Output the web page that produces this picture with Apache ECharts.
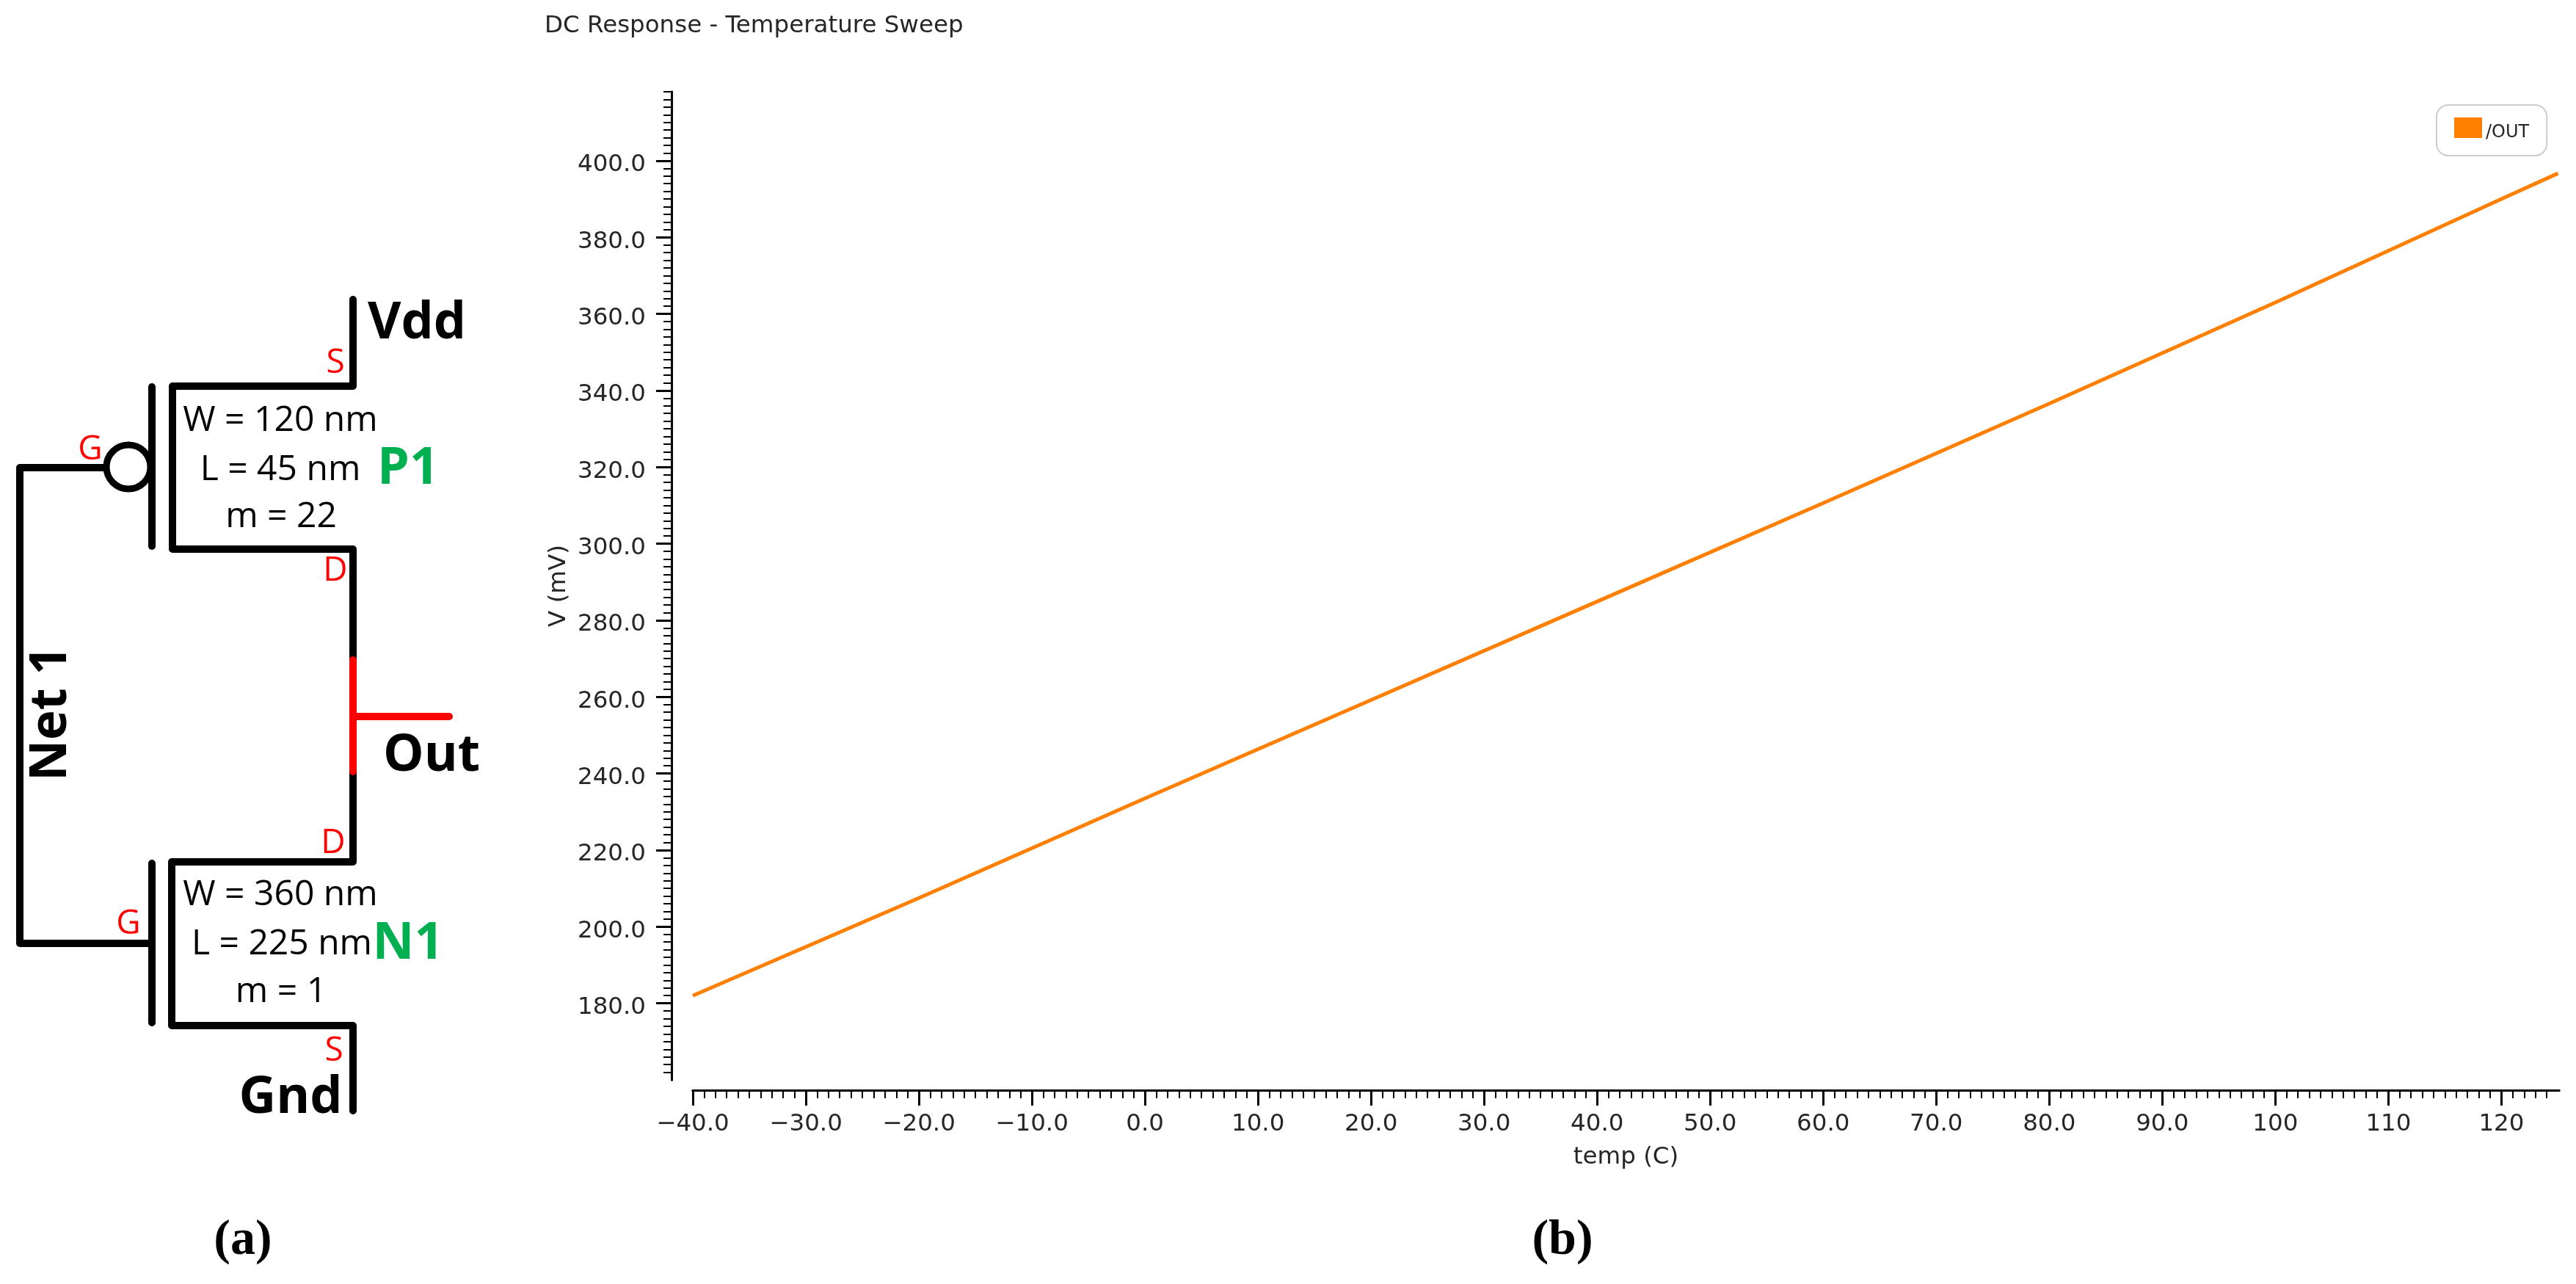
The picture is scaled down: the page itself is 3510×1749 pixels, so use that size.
<!DOCTYPE html>
<html><head><meta charset="utf-8">
<style>html,body{margin:0;padding:0;background:#fff}#c{width:3510px;height:1749px}</style>
<script src="https://cdn.jsdelivr.net/npm/echarts@6/dist/echarts.min.js"></script>
</head><body><div id="c"></div>
<script>
// ---- data ----
const temperatures = [-40, -20, 0, 20, 40, 60, 80, 100, 120, 125];
const voltages = [182, 207.5, 233.5, 259.2, 284.9, 310.6, 336.6, 363, 390, 396.7];
const seriesName = '/OUT';
const xMajorTicks = [-40,-30,-20,-10,0,10,20,30,40,50,60,70,80,90,100,110,120];
const yMajorTicks = [180,200,220,240,260,280,300,320,340,360,380,400];
const xLabelDecimalsBelow = 100;
const chartTitle = 'DC Response - Temperature Sweep';
const xName = 'temp (C)';
const yName = 'V (mV)';

const xMinorTicks = [];
for (let v = -39; v <= 124; v++) if (!xMajorTicks.includes(v)) xMinorTicks.push(v);
const yMinorTicks = [];
for (let v = 162; v <= 418; v += 2) if (!yMajorTicks.includes(v)) yMinorTicks.push(v);

const TICK = '#000', TXT = '#262626', TICKFONT = 32.5;
const chart = echarts.init(document.getElementById('c'), null, {renderer:'canvas'});

const xBase = {type:'value', min:-40, max:125.1, position:'bottom', offset:14, splitLine:{show:false},
  axisLine:{show:true, onZero:false, lineStyle:{color:TICK, width:3}}};
const yBase = {type:'value', min:160, max:418, position:'left', offset:29, splitLine:{show:false},
  axisLine:{show:true, onZero:false, lineStyle:{color:TICK, width:3}}};

// schematic (panel a) drawn with the graphic component
const W = 10, BLACK = '#000', RED = '#f00', GREEN = '#00B050';
const wire = (pts, color, w) => ({type:'polyline', z:5, shape:{points:pts},
  style:{stroke:color||BLACK, lineWidth:w||W, lineCap:'round', lineJoin:'round', fill:null}});
const txt = (s, x, y, size, opt) => Object.assign({type:'text', z:6, x:x, y:y, style:{
  text:s, x:0, y:0, fill:(opt&&opt.fill)||BLACK, align:(opt&&opt.align)||'center', verticalAlign:'middle',
  font:((opt&&opt.weight)||'normal')+' '+size+'px '+((opt&&opt.family)||'"Open Sans"')}}, (opt&&opt.rotation)?{rotation:opt.rotation}:{});
const BOLD = {weight:'bold'}, REDT = {fill:RED}, GRN = {fill:GREEN, weight:'bold'};
const SERIF = {weight:'bold', family:'"Liberation Serif"'};

const graphics = [
  wire([[481,408],[481,526],[235,526],[235,748],[481,748],[481,1174],[234,1174],[234,1397],[481,1397],[481,1513]]),
  wire([[207,527],[207,744]]),
  wire([[207,1176],[207,1393]]),
  wire([[175,637],[27,637],[27,1285],[207,1285]]),
  {type:'circle', z:5, shape:{cx:175, cy:636, r:30}, style:{fill:'#fff', stroke:BLACK, lineWidth:9}},
  wire([[481,899],[481,1051]], RED),
  wire([[481,976],[612,976]], RED),
  txt('Vdd', 568, 441, 70, BOLD),
  txt('Out', 588, 1030, 70, BOLD),
  txt('Gnd', 396, 1496, 70, BOLD),
  txt('Net 1', 70, 972, 69, {weight:'bold', rotation:Math.PI/2}),
  txt('P1', 556, 639, 70, GRN),
  txt('N1', 556, 1286, 70, GRN),
  txt('W = 120 nm', 382, 573, 48),
  txt('L = 45 nm', 382, 640, 48),
  txt('m = 22', 383, 704, 48),
  txt('W = 360 nm', 382, 1219, 48),
  txt('L = 225 nm', 384, 1286, 48),
  txt('m = 1', 383, 1351, 48),
  txt('S', 457, 495, 46, REDT),
  txt('G', 123, 613, 46, REDT),
  txt('D', 457, 778, 46, REDT),
  txt('G', 175, 1259, 46, REDT),
  txt('D', 454, 1149, 46, REDT),
  txt('S', 455, 1432, 46, REDT),
  txt('(a)', 331, 1690, 68, SERIF),
  txt('(b)', 2129, 1690, 68, SERIF)
];

chart.setOption({
  animation:false,
  backgroundColor:'#fff',
  title:{text:chartTitle, left:737, top:14, textStyle:{fontFamily:'DejaVu Sans', fontSize:32.5, fontWeight:'normal', color:TXT}},
  legend:{show:true, left:3320, top:143, orient:'horizontal', icon:'rect', itemWidth:38, itemHeight:28, itemGap:0,
    padding:[17,24,19,24], borderColor:'#ccc', borderWidth:2, borderRadius:16, backgroundColor:'#fff',
    formatter:n => '{a|' + n + '}',
    textStyle:{rich:{a:{fontFamily:'DejaVu Sans', fontSize:24, color:TXT, padding:[14,0,0,0]}}}, data:[seriesName]},
  grid:{left:944, right:23, top:125, bottom:278, containLabel:false},
  xAxis:[
    Object.assign({}, xBase, {name:xName, nameLocation:'middle', nameGap:75, nameMoveOverlap:false,
      nameTextStyle:{fontFamily:'DejaVu Sans', fontSize:TICKFONT, color:TXT},
      axisTick:{show:true, length:21, customValues:xMajorTicks, lineStyle:{color:TICK, width:3}},
      axisLabel:{show:true, customValues:xMajorTicks, margin:30, fontFamily:'DejaVu Sans', fontSize:TICKFONT, color:TXT,
        hideOverlap:false,
        formatter:v => (v < xLabelDecimalsBelow ? v.toFixed(1) : String(v)).replace('-', '\u2212')}}),
    Object.assign({}, xBase, {axisTick:{show:true, length:11, customValues:xMinorTicks, lineStyle:{color:TICK, width:2}},
      axisLabel:{show:false}})
  ],
  yAxis:[
    Object.assign({}, yBase, {name:yName, nameLocation:'middle', nameRotate:90, nameGap:137, nameMoveOverlap:false,
      nameTextStyle:{fontFamily:'DejaVu Sans', fontSize:TICKFONT, color:TXT},
      axisTick:{show:true, length:21, customValues:yMajorTicks, lineStyle:{color:TICK, width:3}},
      axisLabel:{show:true, customValues:yMajorTicks, margin:35, hideOverlap:false,
        rich:{a:{fontFamily:'DejaVu Sans', fontSize:TICKFONT, color:TXT, padding:[12,0,0,0]}},
        formatter:v => '{a|' + v.toFixed(1) + '}'}}),
    Object.assign({}, yBase, {axisTick:{show:true, length:11, customValues:yMinorTicks, lineStyle:{color:TICK, width:2}},
      axisLabel:{show:false}})
  ],
  series:[{name:seriesName, type:'line', xAxisIndex:0, yAxisIndex:0, showSymbol:false, symbol:'none', smooth:false,
    clip:false, itemStyle:{color:'#FF8000'}, lineStyle:{color:'#FF8000', width:5},
    data:temperatures.map((t,i)=>[t,voltages[i]])}],
  graphic:{elements:graphics}
});
</script></body></html>
